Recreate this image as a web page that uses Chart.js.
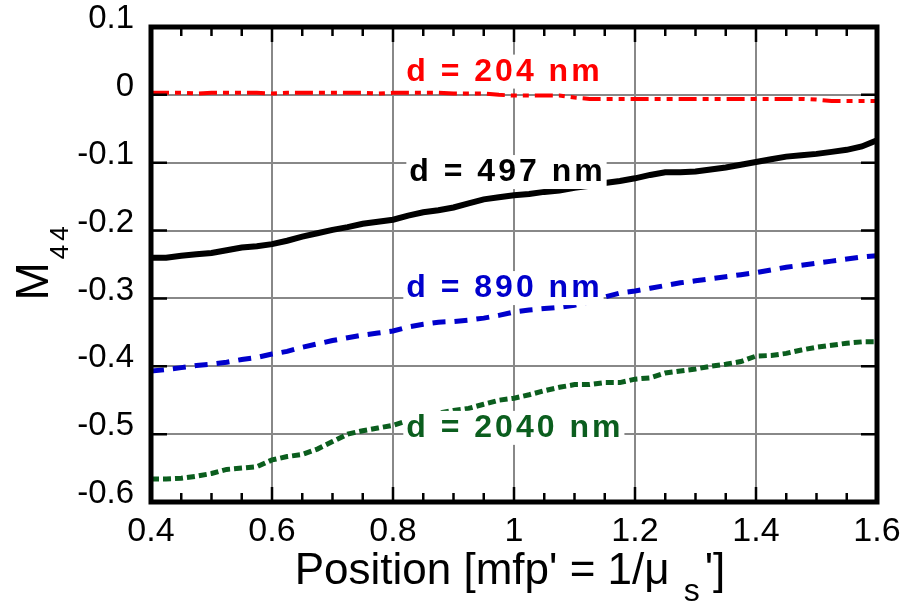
<!DOCTYPE html>
<html><head><meta charset="utf-8">
<script src="https://cdn.jsdelivr.net/npm/chart.js@4.4.1/dist/chart.umd.min.js"></script>
<style>html,body{margin:0;padding:0;background:#fff;}</style>
</head><body>
<canvas id="c" width="907" height="605"></canvas>
<script>
// ---- data ----
const positions = [0.4,0.425,0.45,0.475,0.5,0.525,0.55,0.575,0.6,0.625,0.65,0.675,0.7,0.725,0.75,0.775,0.8,0.825,0.85,0.875,0.9,0.925,0.95,0.975,1.0,1.025,1.05,1.075,1.1,1.125,1.15,1.175,1.2,1.225,1.25,1.275,1.3,1.325,1.35,1.375,1.4,1.425,1.45,1.475,1.5,1.525,1.55,1.575,1.6];
const m44_204 = [0.003,0.003,0.003,0.002,0.003,0.003,0.003,0.003,0.002,0.003,0.003,0.003,0.003,0.003,0.003,0.002,0.003,0.003,0.003,0.003,0.002,0.002,0.002,0.000,-0.001,-0.001,-0.001,-0.001,-0.004,-0.006,-0.006,-0.006,-0.006,-0.006,-0.006,-0.006,-0.006,-0.006,-0.006,-0.006,-0.006,-0.006,-0.006,-0.006,-0.007,-0.009,-0.009,-0.009,-0.009];
const m44_497 = [-0.240,-0.240,-0.237,-0.235,-0.233,-0.229,-0.225,-0.223,-0.220,-0.215,-0.209,-0.204,-0.199,-0.195,-0.190,-0.187,-0.184,-0.178,-0.173,-0.170,-0.166,-0.160,-0.154,-0.151,-0.148,-0.146,-0.143,-0.141,-0.137,-0.134,-0.130,-0.127,-0.123,-0.118,-0.114,-0.114,-0.113,-0.110,-0.107,-0.103,-0.099,-0.095,-0.091,-0.089,-0.087,-0.084,-0.081,-0.076,-0.067];
const m44_890 = [-0.407,-0.405,-0.402,-0.399,-0.397,-0.394,-0.390,-0.387,-0.382,-0.378,-0.372,-0.367,-0.362,-0.358,-0.354,-0.351,-0.348,-0.342,-0.338,-0.335,-0.334,-0.332,-0.329,-0.325,-0.320,-0.317,-0.315,-0.313,-0.310,-0.305,-0.298,-0.292,-0.289,-0.285,-0.281,-0.277,-0.274,-0.271,-0.268,-0.265,-0.262,-0.258,-0.254,-0.251,-0.248,-0.245,-0.242,-0.239,-0.237];
const m44_2040 = [-0.566,-0.566,-0.565,-0.562,-0.558,-0.552,-0.550,-0.548,-0.538,-0.533,-0.530,-0.522,-0.511,-0.500,-0.495,-0.491,-0.487,-0.480,-0.475,-0.469,-0.465,-0.462,-0.456,-0.450,-0.447,-0.442,-0.436,-0.431,-0.427,-0.427,-0.424,-0.424,-0.419,-0.417,-0.410,-0.407,-0.404,-0.400,-0.397,-0.393,-0.385,-0.384,-0.381,-0.376,-0.372,-0.369,-0.366,-0.364,-0.364];
const seriesNames = ['d = 204 nm','d = 497 nm','d = 890 nm','d = 2040 nm'];
const xTickValues = [0.4,0.6,0.8,1.0,1.2,1.4,1.6];
const xMinorTickValues = [0.45,0.5,0.55,0.65,0.7,0.75,0.85,0.9,0.95,1.05,1.1,1.15,1.25,1.3,1.35,1.45,1.5,1.55];
const yTickValues = [0.1,0,-0.1,-0.2,-0.3,-0.4,-0.5,-0.6];
// label anchor (left x, baseline y) in data units
const labelAnchorX = [0.822,0.827,0.822,0.822];
const labelAnchorY = [0.021,-0.127,-0.298,-0.504];

const colors = ['#ff0000','#000000','#0000cc','#0b5e1e'];
const FONT = '"Liberation Sans", Arial, Helvetica, sans-serif';

function pts(vals){ return positions.map((x,i)=>({x:x,y:vals[i]})); }

const decor = {
  id:'decor',
  afterDatasetsDraw(chart){
    const ctx = chart.ctx, xs = chart.scales.x, ys = chart.scales.y;
    ctx.save();
    ctx.font = 'bold 32px ' + FONT;
    ctx.letterSpacing = '3px';
    ctx.textBaseline = 'alphabetic';
    ctx.textAlign = 'left';
    seriesNames.forEach((t,i)=>{
      const px = xs.getPixelForValue(labelAnchorX[i]);
      const py = ys.getPixelForValue(labelAnchorY[i]);
      const w = ctx.measureText(t).width;
      ctx.fillStyle = '#fff';
      ctx.fillRect(px-3, py-26, w+4, 34);
      ctx.fillStyle = colors[i];
      ctx.fillText(t, px, py);
    });
    ctx.restore();
  },
  afterDraw(chart){
    const ctx = chart.ctx, a = chart.chartArea, xs = chart.scales.x, ys = chart.scales.y;
    ctx.save();
    ctx.strokeStyle = '#000';
    ctx.lineWidth = 2.5;
    ctx.beginPath();
    xTickValues.forEach(v=>{
      const p = xs.getPixelForValue(v);
      ctx.moveTo(p,a.bottom); ctx.lineTo(p,a.bottom-15);
      ctx.moveTo(p,a.top); ctx.lineTo(p,a.top+15);
    });
    xMinorTickValues.forEach(v=>{
      const p = xs.getPixelForValue(v);
      ctx.moveTo(p,a.bottom); ctx.lineTo(p,a.bottom-9);
      ctx.moveTo(p,a.top); ctx.lineTo(p,a.top+9);
    });
    yTickValues.forEach(v=>{
      const p = ys.getPixelForValue(v);
      ctx.moveTo(a.left,p); ctx.lineTo(a.left+16,p);
      ctx.moveTo(a.right,p); ctx.lineTo(a.right-16,p);
    });
    ctx.stroke();
    ctx.lineWidth = 5;
    ctx.strokeRect(a.left, a.top, a.right-a.left, a.bottom-a.top);

    // x title with subscript
    ctx.fillStyle = '#000';
    ctx.textBaseline = 'alphabetic';
    ctx.textAlign = 'left';
    const main = "Position [mfp' = 1/\u03bc";
    ctx.font = '44px ' + FONT;
    const wMain = ctx.measureText(main).width;
    const tail = "']";
    const wTail = ctx.measureText(tail).width;
    ctx.font = '32px ' + FONT;
    const wSub = ctx.measureText('s').width;
    const total = wMain + 14 + wSub + 5 + wTail;
    let x0 = (a.left + a.right)/2 - total/2 - 4;
    const base = chart.height - 21;
    ctx.font = '44px ' + FONT;
    ctx.fillText(main, x0, base);
    ctx.font = '32px ' + FONT;
    ctx.fillText('s', x0 + wMain + 14, base + 17);
    ctx.font = '44px ' + FONT;
    ctx.fillText(tail, x0 + wMain + 14 + wSub + 5, base);

    // y title M44 rotated
    ctx.translate(48, (a.top + a.bottom)/2 + 36);
    ctx.rotate(-Math.PI/2);
    ctx.font = '46px ' + FONT;
    ctx.fillText('M', 0, 0);
    const wM = ctx.measureText('M').width;
    ctx.font = '26px ' + FONT;
    ctx.letterSpacing = '4px';
    ctx.fillText('44', wM + 3, 20);
    ctx.restore();
  }
};

const fmt = v => String(Number(v.toFixed(2)));
const noPad = s => { s.paddingTop = 0; s.paddingBottom = 0; s.paddingLeft = 0; s.paddingRight = 0; };

new Chart(document.getElementById('c'), {
  type:'line',
  data:{ datasets:[
    {label:seriesNames[0], data:pts(m44_204), borderColor:colors[0], borderWidth:4, borderDash:[18,6,6,6,6,6], pointRadius:0, tension:0},
    {label:seriesNames[1], data:pts(m44_497), borderColor:colors[1], borderWidth:6, pointRadius:0, tension:0},
    {label:seriesNames[2], data:pts(m44_890), borderColor:colors[2], borderWidth:5, borderDash:[13,9], pointRadius:0, tension:0},
    {label:seriesNames[3], data:pts(m44_2040), borderColor:colors[3], borderWidth:5, borderDash:[8,4], pointRadius:0, tension:0}
  ]},
  options:{
    responsive:false, animation:false, devicePixelRatio:1,
    layout:{padding:{left:0,right:30,top:27,bottom:0}},
    plugins:{legend:{display:false}, tooltip:{enabled:false}},
    scales:{
      x:{type:'linear', min:0.4, max:1.6,
        afterBuildTicks: s => { s.ticks = xTickValues.map(v=>({value:v})); },
        afterFit: s => { s.height = 103; noPad(s); },
        grid:{color:'#888', lineWidth:2, drawTicks:false},
        border:{display:false},
        ticks:{color:'#000', font:{family:FONT, size:34}, padding:9, callback:fmt, maxRotation:0, autoSkip:false}
      },
      y:{type:'linear', min:-0.6, max:0.1,
        afterBuildTicks: s => { s.ticks = yTickValues.map(v=>({value:v})); },
        afterFit: s => { s.width = 151; noPad(s); },
        grid:{color:'#888', lineWidth:2, drawTicks:false},
        border:{display:false},
        ticks:{color:'#000', font:{family:FONT, size:33}, padding:17, labelOffset:-8, callback:fmt, autoSkip:false}
      }
    }
  },
  plugins:[decor]
});
</script>
</body></html>
